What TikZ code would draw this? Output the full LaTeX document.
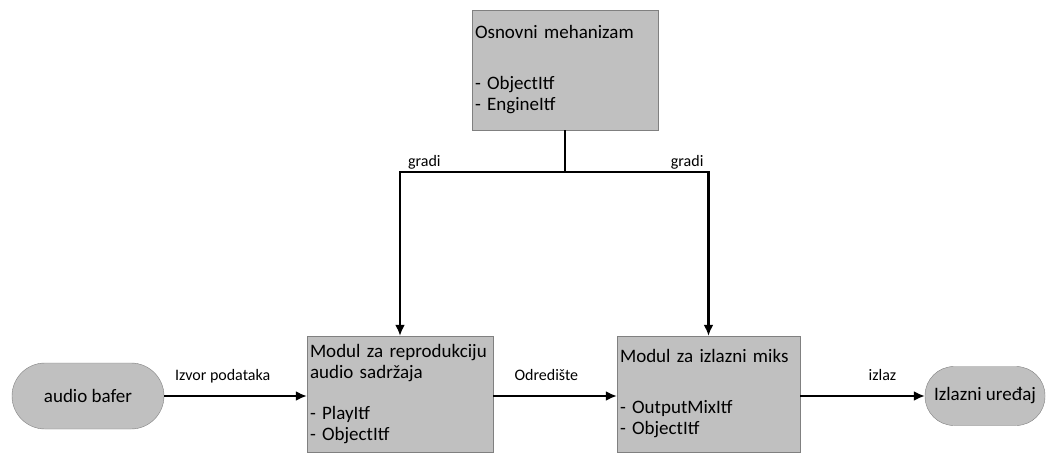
\documentclass[tikz,border=0pt]{standalone}
\usepackage{fontspec}
\setmainfont{Carlito}
\usetikzlibrary{arrows.meta}
\definecolor{boxfill}{RGB}{192,192,192}
\definecolor{boxline}{RGB}{128,128,128}

\begin{document}
\begin{tikzpicture}[
  x=1pt, y=-1pt,
  every node/.style = {font=\fontsize{19}{21}\selectfont},
  modul/.style = {shape=rectangle, draw=boxline, fill=boxfill, align=left,
                  inner xsep=3pt, inner ysep=0pt},
  kraj/.style = {shape=rectangle, draw=boxline, fill=boxfill, align=center},
  lbl/.style = {font=\fontsize{16}{18}\selectfont, inner sep=0pt},
  flow/.style = {line width=2.1pt, -{Latex[length=11pt,width=10pt]}}
]
  \useasboundingbox (0,0) rectangle (1046,457);

  \node[modul, text width=180pt, minimum height=120pt] (motor) at (565,70)
    {Osnovni mehanizam\\[30pt] - ObjectItf\\ - EngineItf};
  \node[modul, text width=180pt, minimum height=116pt] (player) at (400,394)
    {Modul za reprodukciju\\ audio sadržaja\\[20pt] - PlayItf\\ - ObjectItf};
  \node[modul, text width=177pt, minimum height=116pt] (mixer) at (708.5,394)
    {Modul za izlazni miks\\[30pt] - OutputMixItf\\ - ObjectItf};

  \node[kraj, minimum width=152pt, minimum height=66pt, rounded corners=33pt]
    (buffer) at (88,396) {audio bafer};
  \node[kraj, minimum width=120pt, minimum height=59pt, rounded corners=29pt]
    (device) at (985,396) {Izlazni uređaj};

  % gradnja objekata
  \coordinate (split) at (motor.south |- 0,172);
  \draw[line width=2.1pt] (motor.south) -- (split);
  \draw[flow] (split) -| node[lbl, pos=0.5, anchor=base west, xshift=7pt, yshift=5pt] {gradi} (player.north);
  \draw[flow] (split) -| node[lbl, pos=0.5, anchor=base east, xshift=-4pt, yshift=5pt] {gradi} (mixer.north);

  % tok podataka
  \draw[flow] (buffer.east) -- node[lbl, pos=0.41, anchor=base, yshift=16pt] {Izvor podataka} (buffer.east -| player.west);
  \draw[flow] (player.east |- buffer) -- node[lbl, pos=0.43, anchor=base, yshift=16pt] {Odredište} (buffer -| mixer.west);
  \draw[flow] (mixer.east |- device) -- node[lbl, pos=0.66, anchor=base, yshift=16pt] {izlaz} (device.west);
\end{tikzpicture}
\end{document}
